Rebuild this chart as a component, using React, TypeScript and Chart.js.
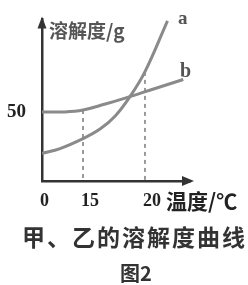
import React, { useEffect, useRef } from 'react';
import { Chart, registerables, LinearScale } from 'chart.js';

// ---- data ----
const xTickValues = [0, 15, 20];
const yTickValues = [50];

const aTemps = [0, 6.6, 15, 16.4, 17.6, 18.8, 20, 22];
const aValues = [20, 23.5, 30.7, 37.8, 47.1, 61.3, 79.2, 116];

const bTemps = [0, 8, 15, 16.8, 18.4, 20.9, 23.4];
const bValues = [50, 50, 51.4, 55.7, 60, 67, 73.5];

const dropTemps = [15, 20];
const dropTops = [51.4, 79];

const seriesNames = ['a', 'b'];
const yTitle = '溶解度/g';
const xTitle = '温度/℃';
const caption = '甲、乙的溶解度曲线';
const figLabel = '图2';

// ---- schematic (non-uniform) temperature axis of the sketch ----
const X_BREAKS = [0, 15, 20, 24];
const X_FRACS = [0, 41 / 148, 103 / 148, 1];

function toFrac(v: number) {
  for (let i = 0; i < X_BREAKS.length - 1; i++) {
    if (v <= X_BREAKS[i + 1] || i === X_BREAKS.length - 2) {
      const t = (v - X_BREAKS[i]) / (X_BREAKS[i + 1] - X_BREAKS[i]);
      return X_FRACS[i] + t * (X_FRACS[i + 1] - X_FRACS[i]);
    }
  }
  return 0;
}
function fromFrac(f: number) {
  for (let i = 0; i < X_FRACS.length - 1; i++) {
    if (f <= X_FRACS[i + 1] || i === X_FRACS.length - 2) {
      const t = (f - X_FRACS[i]) / (X_FRACS[i + 1] - X_FRACS[i]);
      return X_BREAKS[i] + t * (X_BREAKS[i + 1] - X_BREAKS[i]);
    }
  }
  return 0;
}

class PiecewiseScale extends LinearScale {
  static id = 'piecewise';
  static defaults = {};
  getPixelForValue(value: number) {
    return this.getPixelForDecimal(toFrac(value));
  }
  getValueForPixel(pixel: number) {
    return fromFrac(this.getDecimalForPixel(pixel));
  }
}

Chart.register(...registerables, PiecewiseScale as any);

const arrowPlugin = {
  id: 'arrows',
  afterDraw(chart: any) {
    const { ctx, chartArea } = chart;
    const { left, right, top, bottom } = chartArea;
    ctx.save();
    ctx.fillStyle = '#333';
    ctx.beginPath();
    ctx.moveTo(left, top - 3);
    ctx.lineTo(left - 4.5, top + 9);
    ctx.lineTo(left + 4.5, top + 9);
    ctx.closePath();
    ctx.fill();
    ctx.beginPath();
    ctx.moveTo(right + 4, bottom);
    ctx.lineTo(right - 8, bottom - 5);
    ctx.lineTo(right - 8, bottom + 5);
    ctx.closePath();
    ctx.fill();
    ctx.restore();
  },
};

export default function App() {
  const ref = useRef<HTMLCanvasElement>(null);

  useEffect(() => {
    if (!ref.current) return;
    const curveStyle = {
      borderColor: '#8a8a8a',
      borderWidth: 3,
      pointRadius: 0,
      tension: 0.4,
      fill: false,
    };
    const dashStyle = {
      borderColor: '#9a9a9a',
      borderWidth: 2,
      borderDash: [4, 4],
      pointRadius: 0,
      fill: false,
    };
    const chart = new Chart(ref.current, {
      type: 'line',
      data: {
        datasets: [
          { label: seriesNames[0], data: aTemps.map((t, i) => ({ x: t, y: aValues[i] })), ...curveStyle },
          { label: seriesNames[1], data: bTemps.map((t, i) => ({ x: t, y: bValues[i] })), ...curveStyle },
          ...dropTemps.map((t, i) => ({
            label: 'drop' + i,
            data: [{ x: t, y: dropTops[i] }, { x: t, y: 0 }],
            ...dashStyle,
          })),
        ],
      },
      options: {
        animation: false,
        responsive: false,
        maintainAspectRatio: false,
        layout: { padding: { top: 17, right: 58, left: 0, bottom: 0 } },
        plugins: { legend: { display: false }, tooltip: { enabled: false } },
        scales: {
          x: {
            type: 'piecewise' as any,
            min: 0,
            max: 24,
            grid: { display: false },
            border: { display: true, color: '#333', width: 2.5 },
            afterBuildTicks: (s: any) => {
              s.ticks = xTickValues.map((v) => ({ value: v }));
            },
            afterFit: (s: any) => {
              s.height = 104;
            },
            ticks: {
              align: 'start',
              labelOffset: -2,
              padding: 2,
              color: '#222',
              font: { family: 'Liberation Serif', size: 18, weight: 'bold' },
              callback: (v: any) => String(v),
            },
          },
          y: {
            type: 'linear',
            min: 0,
            max: 117,
            grid: { display: false },
            border: { display: true, color: '#333', width: 2.5 },
            afterBuildTicks: (s: any) => {
              s.ticks = yTickValues.map((v) => ({ value: v }));
            },
            afterFit: (s: any) => {
              s.width = 42;
            },
            ticks: {
              padding: 8,
              color: '#222',
              font: { family: 'Liberation Serif', size: 19, weight: 'bold' },
              callback: (v: any) => String(v),
            },
          },
        },
      },
      plugins: [arrowPlugin],
    });
    return () => chart.destroy();
  }, []);

  const cjk = '"Noto Sans CJK SC", "Noto Sans", sans-serif';
  const txt = (style: React.CSSProperties): React.CSSProperties => ({
    position: 'absolute',
    whiteSpace: 'nowrap',
    lineHeight: 1,
    margin: 0,
    ...style,
  });

  return (
    <div style={{ position: 'absolute', left: 0, top: 0, width: 248, height: 285, background: '#fff', overflow: 'hidden' }}>
      <canvas ref={ref} width={248} height={285} style={{ position: 'absolute', left: 0, top: 0 }} />
      <div style={txt({ left: 49, top: 20, fontFamily: cjk, fontSize: 19, fontWeight: 700, color: '#555' })}>{yTitle}</div>
      <div style={txt({ left: 178, top: 8, fontFamily: 'Liberation Serif', fontSize: 19, fontWeight: 700, color: '#555' })}>{seriesNames[0]}</div>
      <div style={txt({ left: 180, top: 60, fontFamily: 'Liberation Serif', fontSize: 20, fontWeight: 700, color: '#555' })}>{seriesNames[1]}</div>
      <div style={txt({ left: 166, top: 190, fontFamily: cjk, fontSize: 21, fontWeight: 700, color: '#222' })}>{xTitle}</div>
      <div style={txt({ left: 22, top: 225, fontFamily: cjk, fontSize: 23, fontWeight: 700, color: '#333', letterSpacing: 2 })}>{caption}</div>
      <div style={txt({ left: 120, top: 263, fontFamily: cjk, fontSize: 20, fontWeight: 700, color: '#333' })}>{figLabel}</div>
    </div>
  );
}
